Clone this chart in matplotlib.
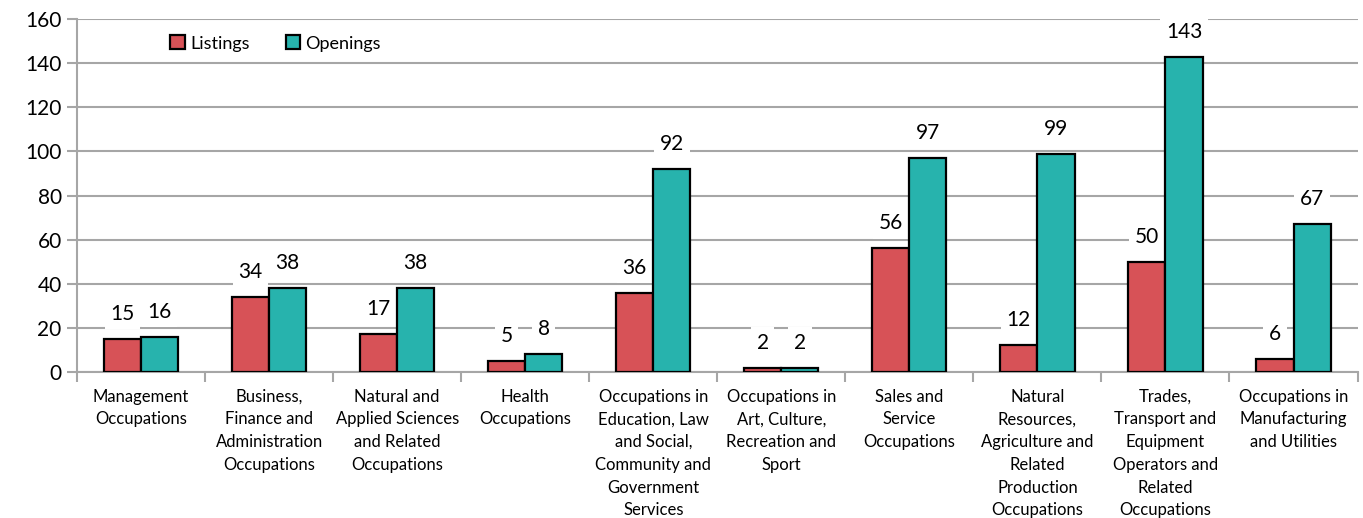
import numpy as np
import matplotlib.pyplot as plt

plt.rcParams['font.family'] = ['Lato', 'DejaVu Sans']

categories = [
    "Management\nOccupations",
    "Business,\nFinance and\nAdministration\nOccupations",
    "Natural and\nApplied Sciences\nand Related\nOccupations",
    "Health\nOccupations",
    "Occupations in\nEducation, Law\nand Social,\nCommunity and\nGovernment\nServices",
    "Occupations in\nArt, Culture,\nRecreation and\nSport",
    "Sales and\nService\nOccupations",
    "Natural\nResources,\nAgriculture and\nRelated\nProduction\nOccupations",
    "Trades,\nTransport and\nEquipment\nOperators and\nRelated\nOccupations",
    "Occupations in\nManufacturing\nand Utilities",
]
listings = [15, 34, 17, 5, 36, 2, 56, 12, 50, 6]
openings = [16, 38, 38, 8, 92, 2, 97, 99, 143, 67]

red = '#d75257'
teal = '#27b3ad'
grid_c = '#a6a6a6'

fig = plt.figure(figsize=(13.63, 5.18), dpi=100)
ax = fig.add_axes([0.0565, 0.282, 0.9395, 0.681])

x = np.arange(len(categories))
w = 0.29
b1 = ax.bar(x - w / 2, listings, w, color=red, edgecolor='black', linewidth=1.6,
            label='Listings', zorder=3)
b2 = ax.bar(x + w / 2, openings, w, color=teal, edgecolor='black', linewidth=1.6,
            label='Openings', zorder=3)

# value labels: white box hides the gridline, but sits behind the bars
for bars, vals in [(b1, listings), (b2, openings)]:
    for rect, v in zip(bars, vals):
        ax.annotate(str(v), (rect.get_x() + rect.get_width() / 2, v),
                    xytext=(0, 18), textcoords='offset points',
                    ha='center', va='center', fontsize=15, zorder=2.5,
                    bbox=dict(facecolor='white', edgecolor='none', pad=4))

ax.set_xlim(-0.5, len(categories) - 0.5)
ax.set_ylim(0, 160)
ax.set_yticks(range(0, 161, 20))
ax.tick_params(axis='y', labelsize=15, length=7, width=1.5, color=grid_c, pad=4)
ax.yaxis.grid(True, color=grid_c, linewidth=1.5, zorder=0)
ax.set_axisbelow(True)

ax.set_xticks(x)
ax.set_xticklabels(categories, fontsize=12, linespacing=1.52)
ax.set_xticks(np.arange(-0.5, len(categories), 1), minor=True)
ax.tick_params(axis='x', which='major', length=0, pad=12)
ax.tick_params(axis='x', which='minor', length=7, width=1.5, color=grid_c)

for s in ['top', 'right']:
    ax.spines[s].set_visible(False)
for s in ['left', 'bottom']:
    ax.spines[s].set_color(grid_c)
    ax.spines[s].set_linewidth(1.5)

ax.legend(loc='upper left', bbox_to_anchor=(0.06, 1.0), ncol=2, frameon=False,
          fontsize=13, handlelength=0.8, handleheight=0.8, handletextpad=0.3,
          columnspacing=2.0)

plt.savefig('out.png')
